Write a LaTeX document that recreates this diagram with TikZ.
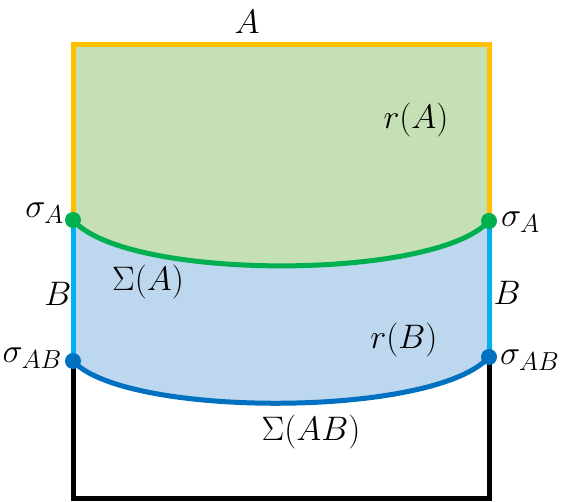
\RequirePackage{fix-cm}
\documentclass[tikz,border=0pt]{standalone}
\usepackage{amsmath}
\DeclareMathSizes{34}{34}{26}{20}
\definecolor{fillA}{HTML}{C5E0B4}
\definecolor{fillB}{HTML}{BDD7EE}
\definecolor{orangeY}{HTML}{FFC000}
\definecolor{greenS}{HTML}{00B050}
\definecolor{skyB}{HTML}{00B0F0}
\definecolor{darkB}{HTML}{0070C0}
\tikzset{
  edge/.style={line width=5pt},
  lbl/.style={font=\fontsize{34}{40}\selectfont, inner sep=0pt},
  dot/.style={circle, inner sep=0pt, minimum size=16pt},
}
\begin{document}
\begin{tikzpicture}[x=1pt,y=-1pt]
\useasboundingbox (0,0) rectangle (564,502);
% coordinates
\coordinate (TL) at (73,45);
\coordinate (TR) at (489,45);
\coordinate (GL) at (73,220);
\coordinate (GR) at (489,221);
\coordinate (BL) at (73,361);
\coordinate (BR) at (489,357);
\coordinate (DL) at (73,498);
\coordinate (DR) at (489,498);
% fills
\fill[fillA] (TL) -- (TR) -- (GR) .. controls (435,281) and (125,281) .. (GL) -- cycle;
\fill[fillB] (GL) .. controls (125,281) and (435,281) .. (GR) -- (BR) .. controls (435,418) and (125,418) .. (BL) -- cycle;
% edges
\draw[edge, orangeY] (GL) -- (TL) -- (TR) -- (GR);
\draw[edge, skyB] (GL) -- (BL);
\draw[edge, skyB] (GR) -- (BR);
\draw[edge, black] (BL) -- (DL) -- (DR) -- (BR);
\draw[edge, greenS] (GL) .. controls (125,281) and (435,281) .. (GR);
\draw[edge, darkB] (BL) .. controls (125,418) and (435,418) .. (BR);
% dots
\node[dot, fill=greenS] (pGL) at (GL) {};
\node[dot, fill=greenS] (pGR) at (GR) {};
\node[dot, fill=darkB] (pBL) at (BL) {};
\node[dot, fill=darkB] (pBR) at (BR) {};
% labels
\node[lbl] (lA) at (247,22) {$A$};
\node[lbl] (lrA) at (416,120) {$r(A)$};
\node[lbl, anchor=east] (lsAL) at (64,213) {$\sigma_{A}$};
\node[lbl, anchor=west] (lsAR) at (501,222) {$\sigma_{A}$};
\node[lbl] (lBL) at (58,294) {$B$};
\node[lbl] (lBR) at (507,293) {$B$};
\node[lbl] (lSA) at (148,282) {$\Sigma(A)$};
\node[lbl] (lrB) at (404,340) {$r(B)$};
\node[lbl, anchor=east] (lsABL) at (62,358) {$\sigma_{AB}$};
\node[lbl, anchor=west] (lsABR) at (500,360) {$\sigma_{AB}$};
\node[lbl] (lSAB) at (311,432) {$\Sigma(AB)$};
\end{tikzpicture}
\end{document}
